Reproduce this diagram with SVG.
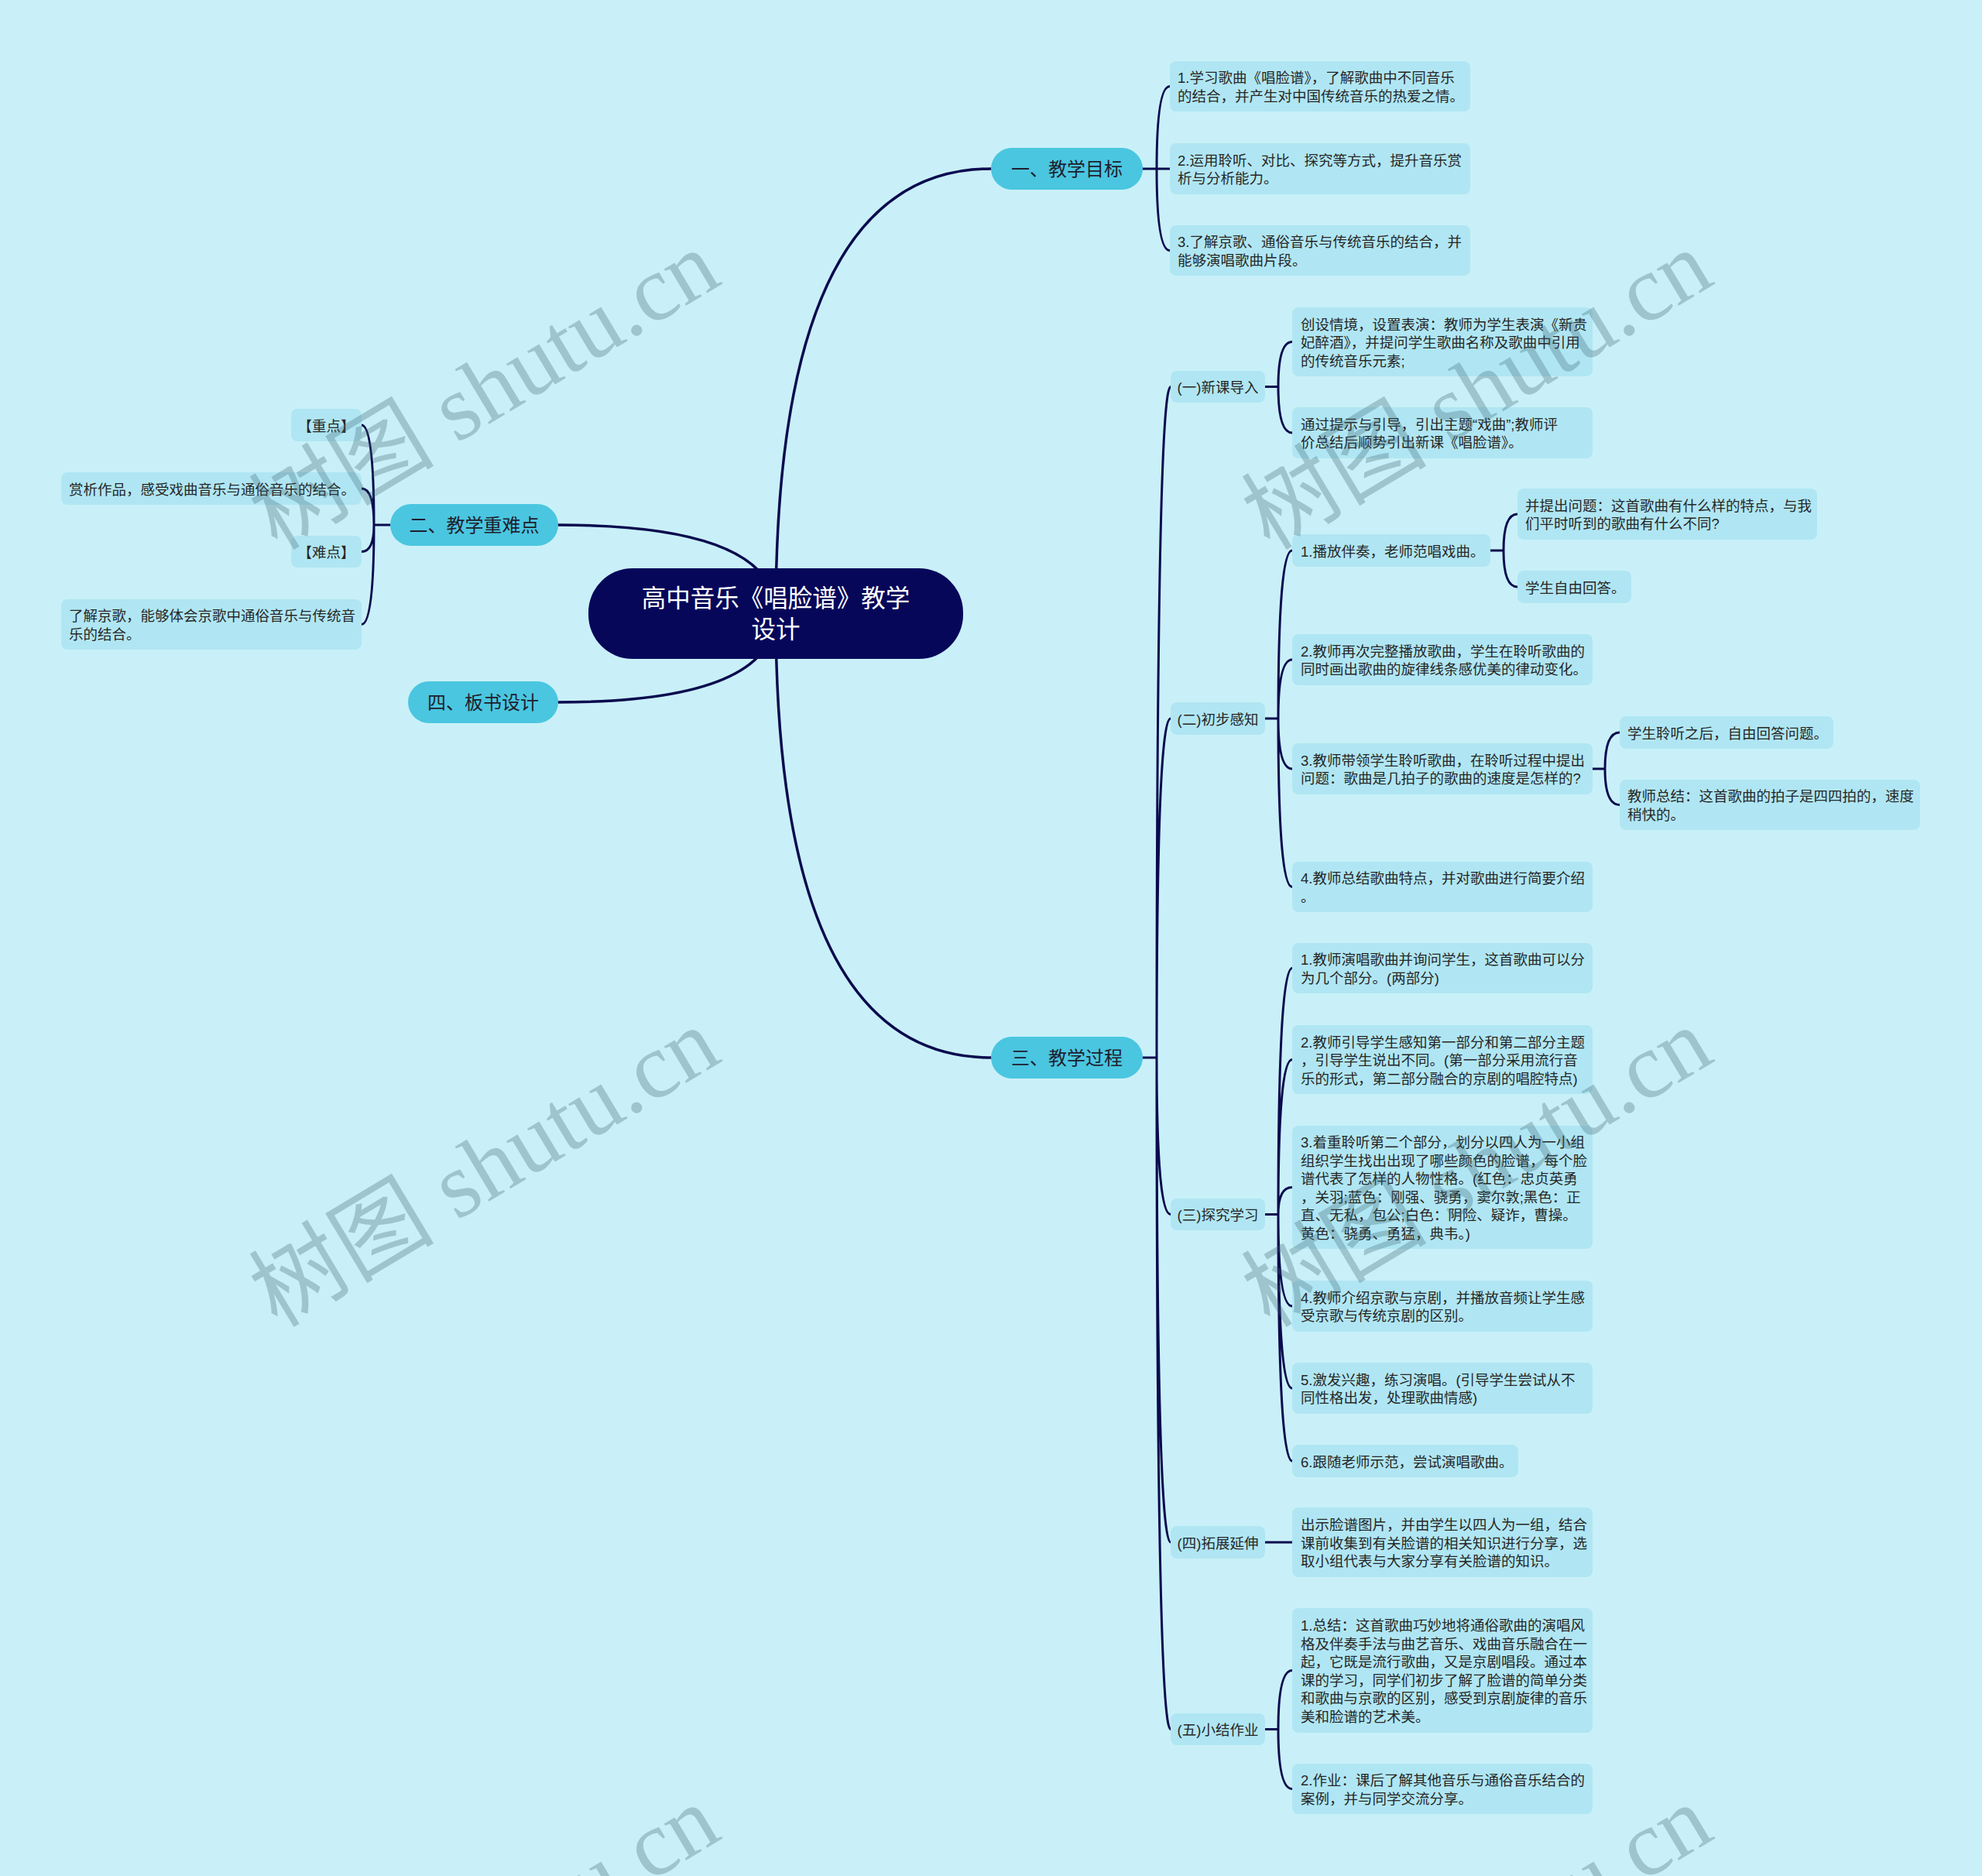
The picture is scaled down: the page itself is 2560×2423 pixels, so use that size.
<svg xmlns="http://www.w3.org/2000/svg" width="2560" height="2423" viewBox="0 0 2560 2423">
<style>
.bg{fill:#c9f0f8}
.root{fill:#07075a}
.br{fill:#4ac6e0}
.lf{fill:#b0e6f3}
.t{font-family:"Liberation Sans","Noto Sans CJK SC",sans-serif;font-size:18.5px;fill:#262626}
.tb{font-family:"Liberation Sans","Noto Sans CJK SC",sans-serif;font-size:24px;fill:#1e1e2e;text-anchor:middle}
.tr{font-family:"Liberation Sans","Noto Sans CJK SC",sans-serif;font-size:31.5px;fill:#ffffff;text-anchor:middle}
.tm{text-anchor:middle}
.ln{fill:none;stroke:#0a0a4e;stroke-width:3;stroke-linecap:round}
.lm{fill:none;stroke:#0a0a4e;stroke-width:3.5;stroke-linecap:round}
.wm{font-family:"Liberation Serif","Noto Sans CJK SC",serif;font-size:120px;fill:#3c6470;opacity:0.3}
</style>
<rect class="bg" x="0" y="0" width="2560" height="2423"/>

<g id="connectors">
<path class="lm" d="M1002 792 Q1002 218 1280 218"/>
<path class="lm" d="M1002 792 Q1002 678 721 678"/>
<path class="lm" d="M1002 792 Q1002 907 721 907"/>
<path class="lm" d="M1002 792 Q1002 1366 1280 1366"/>

<path class="ln" d="M1476 218 H1494 M1494 218 Q1494 111.5 1511 111.5 M1494 218 H1511 M1494 218 Q1494 323.5 1511 323.5"/>
<path class="ln" d="M504 678 H483 M483 678 Q483 549 467 549 M483 678 Q483 631 467 631 M483 678 Q483 712.5 467 712.5 M483 678 Q483 806.5 467 806.5"/>
<path class="ln" d="M1476 1366 H1494 M1494 1366 Q1494 499.5 1512 499.5 M1494 1366 Q1494 928 1512 928 M1494 1366 Q1494 1568.5 1512 1568.5 M1494 1366 Q1494 1992 1512 1992 M1494 1366 Q1494 2233.5 1512 2233.5"/>
<path class="ln" d="M1634 499.5 H1651 M1651 499.5 Q1651 441.5 1669 441.5 M1651 499.5 Q1651 559 1669 559"/>
<path class="ln" d="M1634 928 H1651 M1651 928 Q1651 711 1669 711 M1651 928 Q1651 852 1669 852 M1651 928 Q1651 993 1669 993 M1651 928 Q1651 1145.5 1669 1145.5"/>
<path class="ln" d="M1925 711 H1942 M1942 711 Q1942 664 1960 664 M1942 711 Q1942 758 1960 758"/>
<path class="ln" d="M2057 993 H2073 M2073 993 Q2073 946 2092 946 M2073 993 Q2073 1039.5 2092 1039.5"/>
<path class="ln" d="M1634 1568.5 H1651 M1651 1568.5 Q1651 1250.5 1669 1250.5 M1651 1568.5 Q1651 1368.5 1669 1368.5 M1651 1568.5 Q1651 1533.5 1669 1533.5 M1651 1568.5 Q1651 1687 1669 1687 M1651 1568.5 Q1651 1793 1669 1793 M1651 1568.5 Q1651 1887 1669 1887"/>
<path class="ln" d="M1634 1992 H1669"/>
<path class="ln" d="M1634 2233.5 H1651 M1651 2233.5 Q1651 2157.5 1669 2157.5 M1651 2233.5 Q1651 2310.5 1669 2310.5"/>
</g>

<g id="root">
<rect class="root" x="760" y="734" width="484" height="117" rx="57"/>
<text class="tr" x="1002" y="784">高中音乐《唱脸谱》教学</text>
<text class="tr" x="1002" y="824">设计</text>
</g>

<g id="b1">
<rect class="br" x="1280" y="191" width="196" height="54" rx="27"/>
<text class="tb" x="1378" y="227">一、教学目标</text>
</g>
<g id="b1-1"><rect class="lf" x="1511" y="79" width="388" height="65" rx="8"/>
<text class="t" x="1521" y="107">1.学习歌曲《唱脸谱》，了解歌曲中不同音乐</text>
<text class="t" x="1521" y="131">的结合，并产生对中国传统音乐的热爱之情。</text></g>
<g id="b1-2"><rect class="lf" x="1511" y="185" width="388" height="66" rx="8"/>
<text class="t" x="1521" y="214">2.运用聆听、对比、探究等方式，提升音乐赏</text>
<text class="t" x="1521" y="237">析与分析能力。</text></g>
<g id="b1-3"><rect class="lf" x="1511" y="291" width="388" height="65" rx="8"/>
<text class="t" x="1521" y="319">3.了解京歌、通俗音乐与传统音乐的结合，并</text>
<text class="t" x="1521" y="343">能够演唱歌曲片段。</text></g>

<g id="b2">
<rect class="br" x="504" y="651" width="217" height="54" rx="27"/>
<text class="tb" x="612.5" y="687">二、教学重难点</text>
</g>
<g id="b2-1"><rect class="lf" x="376" y="528" width="91" height="42" rx="8"/>
<text class="t tm" x="421.5" y="556.5">【重点】</text></g>
<g id="b2-2"><rect class="lf" x="79" y="610" width="388" height="42" rx="8"/>
<text class="t" x="89" y="638.5">赏析作品，感受戏曲音乐与通俗音乐的结合。</text></g>
<g id="b2-3"><rect class="lf" x="376" y="692" width="91" height="41" rx="8"/>
<text class="t tm" x="421.5" y="720">【难点】</text></g>
<g id="b2-4"><rect class="lf" x="79" y="774" width="388" height="65" rx="8"/>
<text class="t" x="89" y="802">了解京歌，能够体会京歌中通俗音乐与传统音</text>
<text class="t" x="89" y="826">乐的结合。</text></g>

<g id="b4">
<rect class="br" x="527" y="880" width="194" height="54" rx="27"/>
<text class="tb" x="624" y="916">四、板书设计</text>
</g>

<g id="b3">
<rect class="br" x="1280" y="1339" width="196" height="54" rx="27"/>
<text class="tb" x="1378" y="1375">三、教学过程</text>
</g>

<g id="s1"><rect class="lf" x="1512" y="479" width="122" height="41" rx="8"/>
<text class="t tm" x="1573" y="507">(一)新课导入</text></g>
<g id="s1-1"><rect class="lf" x="1669" y="397" width="388" height="89" rx="8"/>
<text class="t" x="1680" y="425.5">创设情境，设置表演：教师为学生表演《新贵</text>
<text class="t" x="1680" y="449">妃醉酒》，并提问学生歌曲名称及歌曲中引用</text>
<text class="t" x="1680" y="472.5">的传统音乐元素;</text></g>
<g id="s1-2"><rect class="lf" x="1669" y="526" width="388" height="66" rx="8"/>
<text class="t" x="1680" y="555">通过提示与引导，引出主题“戏曲”;教师评</text>
<text class="t" x="1680" y="578">价总结后顺势引出新课《唱脸谱》。</text></g>

<g id="s2"><rect class="lf" x="1512" y="907" width="122" height="42" rx="8"/>
<text class="t tm" x="1573" y="935.5">(二)初步感知</text></g>
<g id="s2-1"><rect class="lf" x="1669" y="690" width="256" height="42" rx="8"/>
<text class="t" x="1680" y="718.5">1.播放伴奏，老师范唱戏曲。</text></g>
<g id="s2-1-1"><rect class="lf" x="1960" y="631" width="387" height="66" rx="8"/>
<text class="t" x="1970" y="660">并提出问题：这首歌曲有什么样的特点，与我</text>
<text class="t" x="1970" y="683">们平时听到的歌曲有什么不同?</text></g>
<g id="s2-1-2"><rect class="lf" x="1960" y="737" width="147" height="42" rx="8"/>
<text class="t" x="1970" y="765.5">学生自由回答。</text></g>
<g id="s2-2"><rect class="lf" x="1669" y="819" width="388" height="66" rx="8"/>
<text class="t" x="1680" y="848">2.教师再次完整播放歌曲，学生在聆听歌曲的</text>
<text class="t" x="1680" y="871">同时画出歌曲的旋律线条感优美的律动变化。</text></g>
<g id="s2-3"><rect class="lf" x="1669" y="960" width="388" height="66" rx="8"/>
<text class="t" x="1680" y="989">3.教师带领学生聆听歌曲，在聆听过程中提出</text>
<text class="t" x="1680" y="1012">问题：歌曲是几拍子的歌曲的速度是怎样的?</text></g>
<g id="s2-3-1"><rect class="lf" x="2092" y="925" width="276" height="42" rx="8"/>
<text class="t" x="2102" y="953.5">学生聆听之后，自由回答问题。</text></g>
<g id="s2-3-2"><rect class="lf" x="2092" y="1007" width="388" height="65" rx="8"/>
<text class="t" x="2102" y="1035">教师总结：这首歌曲的拍子是四四拍的，速度</text>
<text class="t" x="2102" y="1059">稍快的。</text></g>
<g id="s2-4"><rect class="lf" x="1669" y="1113" width="388" height="65" rx="8"/>
<text class="t" x="1680" y="1141">4.教师总结歌曲特点，并对歌曲进行简要介绍</text>
<text class="t" x="1680" y="1165">。</text></g>

<g id="s3"><rect class="lf" x="1512" y="1548" width="122" height="41" rx="8"/>
<text class="t tm" x="1573" y="1576">(三)探究学习</text></g>
<g id="s3-1"><rect class="lf" x="1669" y="1218" width="388" height="65" rx="8"/>
<text class="t" x="1680" y="1246">1.教师演唱歌曲并询问学生，这首歌曲可以分</text>
<text class="t" x="1680" y="1270">为几个部分。(两部分)</text></g>
<g id="s3-2"><rect class="lf" x="1669" y="1324" width="388" height="89" rx="8"/>
<text class="t" x="1680" y="1352.5">2.教师引导学生感知第一部分和第二部分主题</text>
<text class="t" x="1680" y="1376">，引导学生说出不同。(第一部分采用流行音</text>
<text class="t" x="1680" y="1399.5">乐的形式，第二部分融合的京剧的唱腔特点)</text></g>
<g id="s3-3"><rect class="lf" x="1669" y="1454" width="388" height="159" rx="8"/>
<text class="t" x="1680" y="1482">3.着重聆听第二个部分，划分以四人为一小组</text>
<text class="t" x="1680" y="1506">组织学生找出出现了哪些颜色的脸谱，每个脸</text>
<text class="t" x="1680" y="1529">谱代表了怎样的人物性格。(红色：忠贞英勇</text>
<text class="t" x="1680" y="1553">，关羽;蓝色：刚强、骁勇，窦尔敦;黑色：正</text>
<text class="t" x="1680" y="1576">直、无私，包公;白色：阴险、疑诈，曹操。</text>
<text class="t" x="1680" y="1600">黄色：骁勇、勇猛，典韦。)</text></g>
<g id="s3-4"><rect class="lf" x="1669" y="1654" width="388" height="66" rx="8"/>
<text class="t" x="1680" y="1683">4.教师介绍京歌与京剧，并播放音频让学生感</text>
<text class="t" x="1680" y="1706">受京歌与传统京剧的区别。</text></g>
<g id="s3-5"><rect class="lf" x="1669" y="1760" width="388" height="66" rx="8"/>
<text class="t" x="1680" y="1789">5.激发兴趣，练习演唱。(引导学生尝试从不</text>
<text class="t" x="1680" y="1812">同性格出发，处理歌曲情感)</text></g>
<g id="s3-6"><rect class="lf" x="1669" y="1866" width="292" height="42" rx="8"/>
<text class="t" x="1680" y="1894.5">6.跟随老师示范，尝试演唱歌曲。</text></g>

<g id="s4"><rect class="lf" x="1512" y="1971" width="122" height="42" rx="8"/>
<text class="t tm" x="1573" y="1999.5">(四)拓展延伸</text></g>
<g id="s4-1"><rect class="lf" x="1669" y="1947" width="388" height="90" rx="8"/>
<text class="t" x="1680" y="1976">出示脸谱图片，并由学生以四人为一组，结合</text>
<text class="t" x="1680" y="1999.5">课前收集到有关脸谱的相关知识进行分享，选</text>
<text class="t" x="1680" y="2023">取小组代表与大家分享有关脸谱的知识。</text></g>

<g id="s5"><rect class="lf" x="1512" y="2213" width="122" height="41" rx="8"/>
<text class="t tm" x="1573" y="2241">(五)小结作业</text></g>
<g id="s5-1"><rect class="lf" x="1669" y="2077" width="388" height="161" rx="8"/>
<text class="t" x="1680" y="2106">1.总结：这首歌曲巧妙地将通俗歌曲的演唱风</text>
<text class="t" x="1680" y="2130">格及伴奏手法与曲艺音乐、戏曲音乐融合在一</text>
<text class="t" x="1680" y="2153">起，它既是流行歌曲，又是京剧唱段。通过本</text>
<text class="t" x="1680" y="2177">课的学习，同学们初步了解了脸谱的简单分类</text>
<text class="t" x="1680" y="2200">和歌曲与京歌的区别，感受到京剧旋律的音乐</text>
<text class="t" x="1680" y="2224">美和脸谱的艺术美。</text></g>
<g id="s5-2"><rect class="lf" x="1669" y="2278" width="388" height="65" rx="8"/>
<text class="t" x="1680" y="2306">2.作业：课后了解其他音乐与通俗音乐结合的</text>
<text class="t" x="1680" y="2330">案例，并与同学交流分享。</text></g>

<g id="watermarks">
<text class="wm" x="358" y="712" transform="rotate(-31 358 712)">树图 shutu.cn</text>
<text class="wm" x="1640" y="712" transform="rotate(-31 1640 712)">树图 shutu.cn</text>
<text class="wm" x="358" y="1716" transform="rotate(-31 358 1716)">树图 shutu.cn</text>
<text class="wm" x="1640" y="1716" transform="rotate(-31 1640 1716)">树图 shutu.cn</text>
<text class="wm" x="358" y="2720" transform="rotate(-31 358 2720)">树图 shutu.cn</text>
<text class="wm" x="1640" y="2720" transform="rotate(-31 1640 2720)">树图 shutu.cn</text>
</g>
</svg>
